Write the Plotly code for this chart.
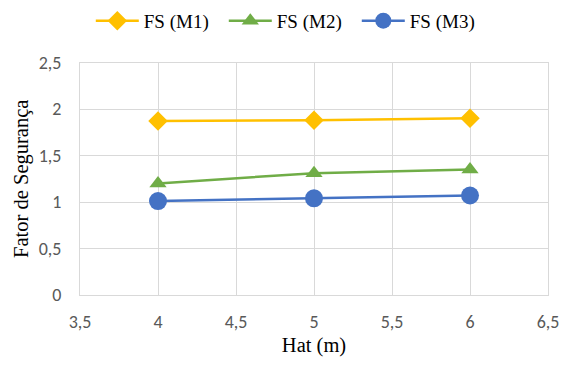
import plotly.graph_objects as go

hat = [4, 5, 6]
fs_m1 = [1.87, 1.88, 1.90]
fs_m2 = [1.20, 1.31, 1.35]
fs_m3 = [1.01, 1.04, 1.07]
names = ["FS (M1)", "FS (M2)", "FS (M3)"]
colors = ["#FFC000", "#70AD47", "#4472C4"]
symbols = ["diamond", "triangle-up", "circle"]
sizes = [15, 15, 18]

serif = "Liberation Serif, Times New Roman, serif"
sans = "Carlito, Lato, sans-serif"

fig = go.Figure()
for name, ys, c, s, sz in zip(names, [fs_m1, fs_m2, fs_m3], colors, symbols, sizes):
    fig.add_trace(go.Scatter(
        x=hat, y=ys, name=name, mode="lines+markers",
        line=dict(color=c, width=2.5),
        marker=dict(color=c, symbol=s, size=sz, line=dict(width=0)),
    ))

fig.update_layout(
    width=571, height=365,
    margin=dict(l=80, r=22, t=60, b=68),
    paper_bgcolor="white", plot_bgcolor="white",
    separators=",.",
    showlegend=True,
    legend=dict(orientation="h", xref="container", yref="container",
                x=0.159, y=0.995, xanchor="left", yanchor="top",
                font=dict(family=serif, size=19, color="#000000"),
                itemwidth=43, entrywidth=75, tracegroupgap=0),
    xaxis=dict(range=[3.5, 6.5], dtick=0.5, tick0=3.5,
               showgrid=True, gridcolor="#D9D9D9", gridwidth=1,
               showline=True, linecolor="#D9D9D9", mirror=True,
               zeroline=False,
               ticks="outside", ticklen=10, tickcolor="rgba(0,0,0,0)",
               tickfont=dict(family=sans, size=18, color="#595959"),
               title=dict(text="Hat (m)", font=dict(family=serif, size=20.5, color="#000000"),
                          standoff=6)),
    yaxis=dict(range=[0, 2.5], dtick=0.5, tick0=0,
               showgrid=True, gridcolor="#D9D9D9", gridwidth=1,
               showline=True, linecolor="#D9D9D9", mirror=True,
               zeroline=False,
               ticks="outside", ticklen=14, tickcolor="rgba(0,0,0,0)",
               tickfont=dict(family=sans, size=18, color="#595959"),
               title=dict(text="Fator de Segurança", font=dict(family=serif, size=20.5, color="#000000"),
                          standoff=4)),
)

fig.write_html("out.html")
